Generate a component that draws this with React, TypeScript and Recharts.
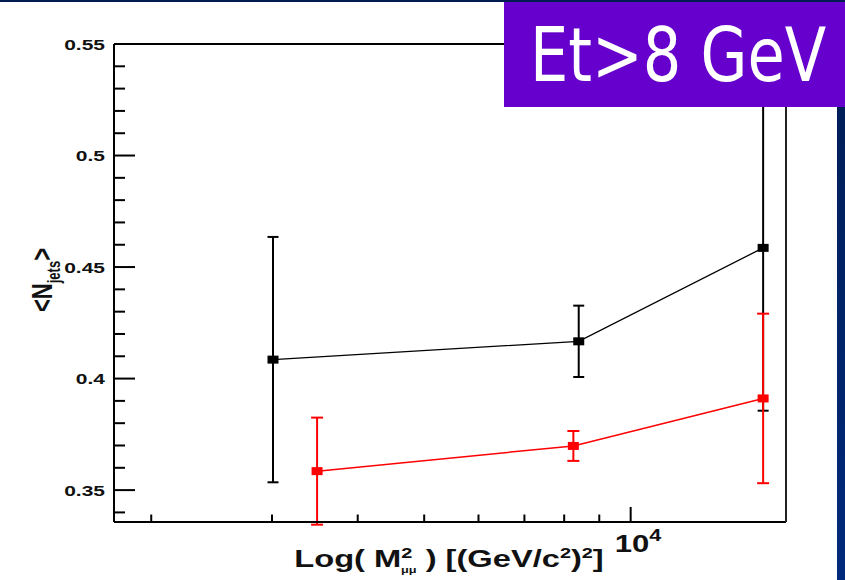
import React from "react";
import { LineChart, Line, XAxis, YAxis, ErrorBar, Label } from "recharts";

// <N_jets> vs dimuon mass, Et > 8 GeV (symmetric errors)
const blackMass = [3010, 8400, 15600];
const blackNjets = [0.4085, 0.4167, 0.4586];
const blackErr = [0.055, 0.016, 0.073];

const redMass = [3490, 8250, 15600];
const redNjets = [0.3585, 0.3698, 0.3911];
const redErr = [0.024, 0.0067, 0.038];

const xDomain = [1765, 16845];
const yDomain = [0.3357, 0.55];
const xTicks = [2000, 3000, 4000, 5000, 6000, 7000, 8000, 9000, 10000];
const yTicks = [
  0.34, 0.35, 0.36, 0.37, 0.38, 0.39, 0.4, 0.41, 0.42, 0.43, 0.44, 0.45, 0.46,
  0.47, 0.48, 0.49, 0.5, 0.51, 0.52, 0.53, 0.54, 0.55,
];

const blackData = blackMass.map((m, i) => ({ mass: m, njets: blackNjets[i], err: blackErr[i] }));
const redData = redMass.map((m, i) => ({ mass: m, njets: redNjets[i], err: redErr[i] }));

const FONT = "'Liberation Sans', Arial, Helvetica, sans-serif";
const STRETCH = 1.35;

// ticks point inward, ROOT style; x/y arrive on the axis line (size & margin 0)
const YTick = (props: any) => {
  const { x, y, payload } = props;
  const v = payload.value;
  const major = Math.round(v * 1000) % 50 === 0;
  return (
    <g>
      <line x1={x} y1={y} x2={x + (major ? 21 : 11)} y2={y} stroke="#000" strokeWidth={2} />
      {major && (
        <text
          transform={`translate(${x - 9},${y + 5.5}) scale(1.4,1)`}
          textAnchor="end"
          fontFamily={FONT}
          fontWeight="bold"
          fontSize={15}
          fill="#111"
        >
          {String(v)}
        </text>
      )}
    </g>
  );
};

const XTick = (props: any) => {
  const { x, y, payload } = props;
  const major = payload.value === 10000;
  return (
    <g>
      <line x1={x} y1={y} x2={x} y2={y - (major ? 15 : 7.5)} stroke="#000" strokeWidth={2} />
      {major && (
        <text
          transform={`translate(${x - 16},${y + 30}) scale(${STRETCH},1)`}
          fontFamily={FONT}
          fontWeight="bold"
          fontSize={23}
          fill="#111"
        >
          10
          <tspan dy={-11} fontSize={16}>4</tspan>
        </text>
      )}
    </g>
  );
};

const XTitle = (props: any) => {
  const vb = props.viewBox;
  const cx = vb.x + vb.width / 2 - 1;
  return (
    <text
      transform={`translate(${cx},${vb.y + 45}) scale(1.42,1)`}
      textAnchor="middle"
      fontFamily={FONT}
      fontWeight="bold"
      fontSize={23}
      fill="#111"
    >
      Log( M
      <tspan dy={-9} fontSize={14}>2</tspan>
      <tspan dx={-8} dy={15} fontSize={9}>μμ</tspan>
      <tspan dy={-6}> ) [(GeV/c</tspan>
      <tspan dy={-9} fontSize={14}>2</tspan>
      <tspan dy={9}>)</tspan>
      <tspan dy={-9} fontSize={14}>2</tspan>
      <tspan dy={9}>]</tspan>
    </text>
  );
};

const YTitle = (props: any) => {
  const vb = props.viewBox;
  return (
    <text
      transform={`translate(${vb.x + vb.width - 62},${vb.y + vb.height / 2 - 3}) scale(${STRETCH},1) rotate(-90)`}
      textAnchor="middle"
      fontFamily={FONT}
      fontWeight="bold"
      fontSize={22}
      fill="#111"
    >
      {"<N"}
      <tspan dy={6} fontSize={13}>jets</tspan>
      <tspan dy={-6}>{">"}</tspan>
    </text>
  );
};

const squareDot = (color: string) => (props: any) => {
  const { cx, cy, index } = props;
  return <rect key={`d-${index}`} x={cx - 5.5} y={cy - 4} width={11} height={8} fill={color} />;
};

export default function App() {
  return (
    <div
      style={{
        position: "absolute",
        left: 0,
        top: 0,
        width: 845,
        height: 580,
        background: "linear-gradient(#001b50, #002a7c)",
        overflow: "hidden",
      }}
    >
      <div style={{ position: "absolute", left: 0, top: 2, width: 837, height: 578, background: "#fff" }} />
      <div style={{ position: "absolute", left: 0, top: 0 }}>
        <LineChart width={845} height={580} margin={{ top: 43, left: 113, right: 58, bottom: 57 }}>
          <XAxis
            dataKey="mass"
            type="number"
            scale="log"
            domain={xDomain}
            allowDataOverflow
            ticks={xTicks}
            interval={0}
            height={1}
            tickSize={0}
            tickMargin={0}
            tick={(p: any) => <XTick {...p} />}
            axisLine={{ stroke: "#000", strokeWidth: 2 }}
            tickLine={false}
          >
            <Label content={(p: any) => <XTitle {...p} />} />
          </XAxis>
          <XAxis
            xAxisId="top"
            orientation="top"
            type="number"
            domain={[0, 1]}
            height={1}
            tick={false}
            tickLine={false}
            axisLine={{ stroke: "#000", strokeWidth: 2 }}
          />
          <YAxis
            type="number"
            domain={yDomain}
            allowDataOverflow
            ticks={yTicks}
            interval={0}
            width={1}
            tickSize={0}
            tickMargin={0}
            tick={(p: any) => <YTick {...p} />}
            axisLine={{ stroke: "#000", strokeWidth: 2 }}
            tickLine={false}
          >
            <Label content={(p: any) => <YTitle {...p} />} />
          </YAxis>
          <YAxis
            yAxisId="right"
            orientation="right"
            type="number"
            domain={[0, 1]}
            width={1}
            tick={false}
            tickLine={false}
            axisLine={{ stroke: "#222", strokeWidth: 2 }}
          />
          <Line
            data={blackData}
            dataKey="njets"
            type="linear"
            stroke="#000"
            strokeWidth={1.3}
            dot={squareDot("#000")}
            activeDot={false}
            isAnimationActive={false}
          >
            <ErrorBar dataKey="err" width={5.5} stroke="#000" strokeWidth={2} direction="y" />
          </Line>
          <Line
            data={redData}
            dataKey="njets"
            type="linear"
            stroke="#ff0000"
            strokeWidth={1.5}
            dot={squareDot("#ff0000")}
            activeDot={false}
            isAnimationActive={false}
          >
            <ErrorBar dataKey="err" width={6} stroke="#ff0000" strokeWidth={2} direction="y" />
          </Line>
        </LineChart>
      </div>
      <div
        style={{
          position: "absolute",
          left: 504,
          top: 2,
          width: 341,
          height: 105,
          background: "#6600cc",
        }}
      >
        <svg width={341} height={105}>
          <text
            transform="translate(26,79) scale(1.01,1.25)"
            fontSize={60}
            fill="#fff"
            fontFamily="'DejaVu Sans', sans-serif"
          >
            Et&gt;8 GeV
          </text>
        </svg>
      </div>
    </div>
  );
}
